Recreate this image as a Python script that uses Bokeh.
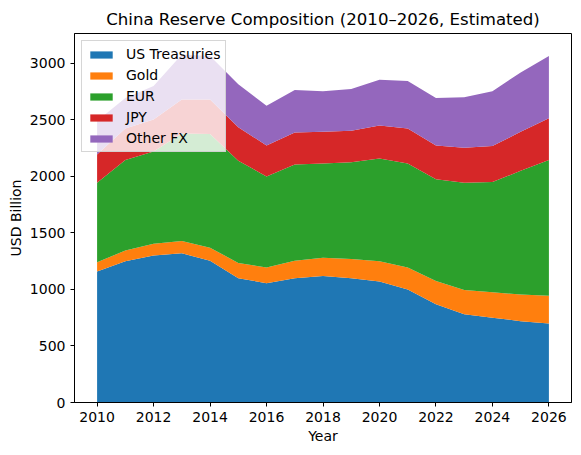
from bokeh.plotting import figure
from bokeh.models import Range1d, FixedTicker, Legend
from bokeh.embed import file_html
from bokeh.resources import INLINE

years = list(range(2010, 2027))
us_treasuries = [1160, 1250, 1300, 1320, 1255, 1100, 1055, 1100, 1120, 1100, 1070, 1000, 870, 780, 750, 720, 700]
gold = [80, 95, 105, 110, 115, 135, 140, 155, 160, 170, 180, 195, 205, 215, 225, 235, 245]
eur = [705, 800, 815, 950, 1005, 905, 805, 850, 835, 855, 910, 920, 900, 950, 975, 1095, 1200]
jpy = [250, 280, 285, 300, 305, 295, 275, 285, 280, 280, 290, 310, 300, 310, 320, 345, 370]
other_fx = [295, 270, 295, 400, 385, 380, 350, 375, 360, 370, 405, 420, 420, 445, 485, 525, 550]

series_names = ["US Treasuries", "Gold", "EUR", "JPY", "Other FX"]
series_keys = ["us", "gold", "eur", "jpy", "other"]
colors = ["#1f77b4", "#ff7f0e", "#2ca02c", "#d62728", "#9467bd"]
x_ticks = list(range(2010, 2027, 2))
y_ticks = list(range(0, 3001, 500))

data = dict(year=years, us=us_treasuries, gold=gold, eur=eur, jpy=jpy, other=other_fx)

FONT = "DejaVu Sans"
FS = "14px"

p = figure(width=573, height=447, output_backend="svg", toolbar_location=None,
           x_range=Range1d(2009.2, 2026.8), y_range=Range1d(0, 3265),
           title="China Reserve Composition (2010\u20132026, Estimated)",
           min_border_left=74, min_border_right=2, min_border_top=33, min_border_bottom=45)

renderers = p.varea_stack(stackers=series_keys, x="year", color=colors, source=data)

legend = Legend(items=[(n, [r]) for n, r in zip(series_names, renderers)], location="top_left")
legend.label_text_font = FONT
legend.label_text_font_size = FS
legend.label_text_color = "black"
legend.glyph_width = 28
legend.glyph_height = 9
legend.label_height = 16
legend.spacing = 5
legend.padding = 5
legend.margin = 7
legend.label_standoff = 11
legend.background_fill_color = "white"
legend.background_fill_alpha = 0.8
legend.border_line_color = "#cccccc"
legend.border_line_alpha = 0.8
p.add_layout(legend)

p.title.align = "center"
p.title.text_font = FONT
p.title.text_font_size = "16.6px"
p.title.text_font_style = "normal"
p.title.text_color = "black"

p.xgrid.visible = False
p.ygrid.visible = False
p.outline_line_color = "black"
p.outline_line_alpha = 1.0
p.outline_line_width = 1

p.xaxis.ticker = FixedTicker(ticks=x_ticks)
p.yaxis.ticker = FixedTicker(ticks=y_ticks)
p.xaxis.axis_label = "Year"
p.yaxis.axis_label = "USD Billion"
for ax in (p.xaxis, p.yaxis):
    ax.axis_label_text_font = FONT
    ax.axis_label_text_font_size = FS
    ax.axis_label_text_font_style = "normal"
    ax.axis_label_text_color = "black"
    ax.major_label_text_font = FONT
    ax.major_label_text_font_size = FS
    ax.major_label_text_color = "black"
    ax.major_tick_out = 4
    ax.major_tick_in = 0
    ax.minor_tick_out = 0
    ax.minor_tick_in = 0
    ax.major_label_standoff = 5
    ax.axis_label_standoff = 3
    ax.axis_line_color = "black"
    ax.major_tick_line_color = "black"

open("out.html", "w").write(file_html(p, INLINE))
